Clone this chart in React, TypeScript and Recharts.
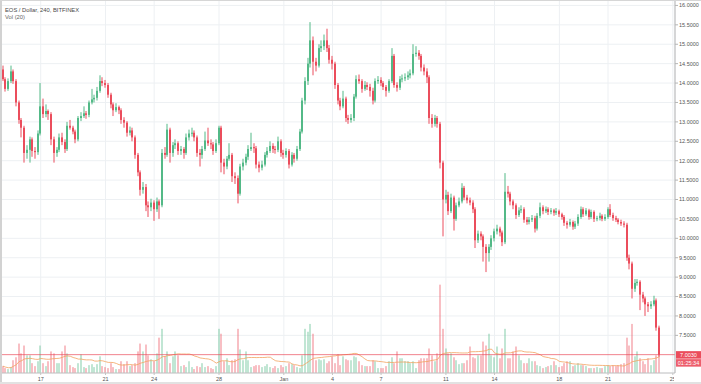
import React from "react"
import {
  ComposedChart,
  Bar,
  Line,
  XAxis,
  YAxis,
  CartesianGrid,
  ReferenceLine,
} from "recharts"

// EOS / Dollar, 4h candles (240), BITFINEX
const opens = [
  14.35, 14.10, 13.85, 14.05, 14.30, 14.05, 13.50, 13.05, 12.85, 12.20,
  12.28, 12.55, 12.25, 12.22, 12.70, 13.40, 13.20, 13.28, 13.20, 12.55,
  12.20, 12.28, 12.60, 12.48, 12.30, 12.90, 12.85, 12.75, 12.55, 13.10,
  13.15, 13.22, 13.18, 13.50, 13.58, 13.62, 13.80, 14.05, 14.00, 13.95,
  13.70, 13.45, 13.30, 13.38, 13.30, 13.05, 12.98, 12.72, 12.78, 12.60,
  12.15, 11.70, 11.25, 11.32, 10.85, 10.80, 10.92, 10.75, 10.95, 10.85,
  12.20, 12.15, 12.80, 12.20, 12.40, 12.45, 12.25, 12.30, 12.20, 12.60,
  12.70, 12.72, 12.60, 12.20, 12.15, 12.30, 12.52, 12.45, 12.42, 12.25,
  12.45, 12.85, 11.95, 11.85, 12.05, 12.15, 11.60, 11.55, 11.15, 11.85,
  11.95, 12.10, 12.30, 12.35, 12.32, 11.90, 11.82, 11.90, 12.15, 12.25,
  12.38, 12.30, 12.28, 12.50, 12.20, 12.15, 12.25, 11.90, 12.15, 12.05,
  12.30, 12.75, 13.55, 14.05, 14.50, 15.10, 14.55, 14.45, 14.90, 14.95,
  15.10, 14.90, 14.60, 14.50, 13.95, 13.55, 13.40, 13.60, 13.10, 13.05,
  13.10, 13.65, 14.10, 14.05, 13.85, 13.95, 13.90, 13.80, 13.55, 14.05,
  14.08, 14.00, 13.90, 13.80, 14.05, 14.70, 13.95, 13.88, 14.10, 14.12,
  14.15, 14.20, 14.25, 14.75, 14.78, 14.70, 14.40, 14.30, 14.15, 13.10,
  12.95, 13.10, 12.95, 11.95, 11.00, 11.12, 10.70, 11.05, 10.50, 10.85,
  10.95, 11.30, 11.05, 10.98, 10.92, 10.75, 9.95, 10.12, 10.05, 9.78,
  9.62, 9.78, 10.00, 10.18, 10.25, 10.15, 9.90, 11.20, 11.15, 10.95,
  10.85, 10.60, 10.72, 10.75, 10.48, 10.42, 10.48, 10.52, 10.25, 10.58,
  10.80, 10.70, 10.75, 10.68, 10.72, 10.66, 10.70, 10.62, 10.55, 10.40,
  10.35, 10.42, 10.30, 10.38, 10.55, 10.75, 10.62, 10.72, 10.55, 10.68,
  10.50, 10.52, 10.58, 10.50, 10.55, 10.75, 10.60, 10.52, 10.48, 10.42,
  10.38, 10.35, 9.50, 9.35, 8.70, 8.85, 8.88, 8.55, 8.45, 8.30,
  8.25, 8.30, 8.40, 7.70,
]

const highs = [
  14.45, 14.15, 14.12, 14.45, 14.35, 14.10, 13.55, 13.10, 12.90, 12.40,
  12.62, 12.60, 12.35, 12.78, 14.00, 13.60, 13.45, 13.32, 13.25, 12.62,
  12.35, 12.70, 12.72, 12.55, 13.00, 13.05, 12.90, 12.80, 13.15, 13.25,
  13.40, 13.28, 13.55, 13.85, 13.70, 13.90, 14.20, 14.15, 14.08, 14.00,
  13.75, 13.50, 13.48, 13.42, 13.35, 13.12, 13.02, 12.88, 12.85, 12.65,
  12.20, 11.75, 11.45, 11.40, 10.95, 11.02, 10.98, 11.05, 11.00, 12.30,
  12.35, 12.95, 12.85, 12.48, 12.55, 12.50, 12.38, 12.35, 12.70, 12.80,
  12.85, 12.78, 12.65, 12.30, 12.38, 12.75, 12.85, 12.55, 12.48, 12.55,
  12.90, 12.90, 12.05, 12.12, 12.45, 12.20, 11.70, 11.62, 11.92, 12.05,
  12.18, 12.40, 12.72, 12.45, 12.38, 11.98, 12.00, 12.22, 12.35, 12.50,
  12.45, 12.38, 12.62, 12.55, 12.28, 12.32, 12.30, 12.22, 12.20, 12.38,
  12.82, 13.62, 14.15, 14.65, 15.57, 15.20, 14.65, 15.00, 15.10, 15.25,
  15.40, 14.98, 14.70, 14.55, 14.00, 13.62, 13.80, 13.65, 13.18, 13.20,
  13.72, 14.20, 14.22, 14.10, 14.05, 14.02, 13.98, 13.88, 14.12, 14.18,
  14.15, 14.05, 13.95, 14.10, 14.90, 14.75, 14.02, 14.18, 14.22, 14.25,
  14.30, 14.35, 15.00, 14.95, 14.85, 14.75, 14.48, 14.38, 14.20, 13.20,
  13.18, 13.15, 13.00, 12.00, 11.25, 11.20, 11.15, 11.10, 10.92, 11.05,
  11.42, 11.35, 11.12, 11.05, 10.98, 10.80, 10.20, 10.18, 10.10, 9.85,
  9.85, 10.08, 10.25, 10.35, 10.30, 10.20, 11.68, 11.35, 11.20, 11.00,
  10.90, 10.80, 10.85, 10.80, 10.55, 10.55, 10.60, 10.58, 10.65, 10.92,
  10.85, 10.82, 10.80, 10.78, 10.76, 10.78, 10.74, 10.66, 10.60, 10.45,
  10.50, 10.46, 10.45, 10.62, 10.82, 10.80, 10.78, 10.76, 10.74, 10.72,
  10.58, 10.66, 10.62, 10.62, 10.80, 10.88, 10.66, 10.58, 10.52, 10.48,
  10.44, 10.40, 9.58, 9.40, 8.95, 8.95, 8.92, 8.62, 8.50, 8.36,
  8.38, 8.52, 8.45, 7.75,
]

const lows = [
  14.05, 13.78, 13.80, 14.00, 13.98, 13.40, 12.95, 12.60, 11.95, 12.05,
  11.95, 12.10, 12.05, 12.15, 12.65, 13.10, 13.12, 13.05, 12.40, 11.95,
  12.10, 12.22, 12.40, 12.20, 12.25, 12.80, 12.68, 12.45, 12.50, 13.02,
  13.10, 13.08, 13.12, 13.45, 13.50, 13.55, 13.75, 13.92, 13.88, 13.62,
  13.35, 13.15, 13.25, 13.20, 12.95, 12.85, 12.62, 12.65, 12.50, 12.05,
  11.60, 11.10, 11.15, 10.70, 10.55, 10.70, 10.45, 10.68, 10.50, 10.80,
  12.05, 12.10, 11.95, 12.10, 12.30, 12.15, 12.15, 12.05, 12.15, 12.52,
  12.62, 12.50, 12.10, 11.85, 12.05, 12.25, 12.38, 12.30, 12.15, 12.20,
  12.40, 11.70, 11.65, 11.78, 12.00, 11.45, 11.40, 10.90, 11.10, 11.75,
  11.88, 12.02, 12.25, 12.20, 11.80, 11.70, 11.75, 11.85, 12.08, 12.20,
  12.20, 12.18, 12.22, 12.10, 12.05, 12.08, 11.80, 11.85, 11.95, 12.00,
  12.25, 12.70, 13.45, 13.95, 14.40, 14.20, 14.30, 14.40, 14.80, 14.85,
  14.80, 14.50, 14.35, 13.85, 13.45, 13.30, 13.35, 13.00, 12.95, 12.98,
  13.02, 13.60, 13.98, 13.75, 13.80, 13.82, 13.65, 13.45, 13.50, 13.98,
  13.92, 13.82, 13.65, 13.75, 14.00, 13.88, 13.78, 13.82, 14.02, 14.05,
  14.08, 14.12, 14.20, 14.68, 14.60, 14.30, 14.20, 14.00, 12.95, 12.85,
  12.88, 12.85, 11.80, 10.05, 10.90, 10.60, 10.65, 10.20, 10.45, 10.80,
  10.90, 10.98, 10.90, 10.85, 10.65, 9.75, 9.88, 9.95, 9.40, 9.13,
  9.40, 9.70, 9.92, 10.10, 10.05, 9.80, 9.85, 11.05, 10.85, 10.75,
  10.50, 10.55, 10.65, 10.40, 10.35, 10.36, 10.42, 10.15, 10.20, 10.52,
  10.62, 10.65, 10.60, 10.62, 10.58, 10.60, 10.55, 10.48, 10.32, 10.25,
  10.30, 10.22, 10.24, 10.32, 10.50, 10.55, 10.58, 10.48, 10.50, 10.42,
  10.44, 10.46, 10.44, 10.45, 10.50, 10.55, 10.45, 10.42, 10.36, 10.32,
  10.28, 9.42, 9.20, 8.45, 8.62, 8.78, 8.15, 8.35, 8.00, 8.10,
  8.18, 8.25, 7.62, 6.95,
]

const closes = [
  14.10, 13.85, 14.05, 14.30, 14.05, 13.50, 13.05, 12.85, 12.20, 12.28,
  12.55, 12.25, 12.22, 12.70, 13.40, 13.20, 13.28, 13.20, 12.55, 12.20,
  12.28, 12.60, 12.48, 12.30, 12.90, 12.85, 12.75, 12.55, 13.10, 13.15,
  13.22, 13.18, 13.50, 13.58, 13.62, 13.80, 14.05, 14.00, 13.95, 13.70,
  13.45, 13.30, 13.38, 13.30, 13.05, 12.98, 12.72, 12.78, 12.60, 12.15,
  11.70, 11.25, 11.32, 10.85, 10.80, 10.92, 10.75, 10.95, 10.85, 12.20,
  12.15, 12.80, 12.20, 12.40, 12.45, 12.25, 12.30, 12.20, 12.60, 12.70,
  12.72, 12.60, 12.20, 12.15, 12.30, 12.52, 12.45, 12.42, 12.25, 12.45,
  12.85, 11.95, 11.85, 12.05, 12.15, 11.60, 11.55, 11.15, 11.85, 11.95,
  12.10, 12.30, 12.35, 12.32, 11.90, 11.82, 11.90, 12.15, 12.25, 12.38,
  12.30, 12.28, 12.50, 12.20, 12.15, 12.25, 11.90, 12.15, 12.05, 12.30,
  12.75, 13.55, 14.05, 14.50, 15.10, 14.55, 14.45, 14.90, 14.95, 15.10,
  14.90, 14.60, 14.50, 13.95, 13.55, 13.40, 13.60, 13.10, 13.05, 13.10,
  13.65, 14.10, 14.05, 13.85, 13.95, 13.90, 13.80, 13.55, 14.05, 14.08,
  14.00, 13.90, 13.80, 14.05, 14.70, 13.95, 13.88, 14.10, 14.12, 14.15,
  14.20, 14.25, 14.75, 14.78, 14.70, 14.40, 14.30, 14.15, 13.10, 12.95,
  13.10, 12.95, 11.95, 11.00, 11.12, 10.70, 11.05, 10.50, 10.85, 10.95,
  11.30, 11.05, 10.98, 10.92, 10.75, 9.95, 10.12, 10.05, 9.78, 9.62,
  9.78, 10.00, 10.18, 10.25, 10.15, 9.90, 11.20, 11.15, 10.95, 10.85,
  10.60, 10.72, 10.75, 10.48, 10.42, 10.48, 10.52, 10.25, 10.58, 10.80,
  10.70, 10.75, 10.68, 10.72, 10.66, 10.70, 10.62, 10.55, 10.40, 10.35,
  10.42, 10.30, 10.38, 10.55, 10.75, 10.62, 10.72, 10.55, 10.68, 10.50,
  10.52, 10.58, 10.50, 10.55, 10.75, 10.60, 10.52, 10.48, 10.42, 10.38,
  10.35, 9.50, 9.35, 8.70, 8.85, 8.88, 8.55, 8.45, 8.30, 8.25,
  8.30, 8.40, 7.70, 7.00,
]

const volumes = [
  7, 5, 4, 6, 13, 16, 30, 20, 28, 18,
  18, 10, 7, 12, 28, 10, 7, 12, 22, 20,
  10, 10, 22, 28, 20, 8, 6, 5, 10, 19,
  6, 5, 8, 9, 6, 9, 17, 7, 6, 5,
  10, 6, 4, 4, 12, 9, 12, 7, 8, 10,
  22, 30, 22, 29, 18, 14, 12, 20, 36, 45,
  17, 22, 10, 17, 22, 18, 7, 8, 6, 12,
  6, 4, 7, 6, 10, 6, 7, 5, 4, 7,
  45, 40, 12, 15, 8, 13, 14, 45, 24, 13,
  22, 13, 6, 7, 8, 8, 6, 7, 9, 6,
  5, 7, 5, 8, 6, 7, 10, 9, 8, 6,
  5, 18, 45, 42, 50, 40, 13, 14, 13, 14,
  10, 12, 17, 10, 19, 8, 17, 14, 13, 13,
  17, 16, 12, 8, 7, 7, 7, 13, 12, 5,
  5, 5, 7, 12, 16, 10, 22, 15, 15, 12,
  12, 10, 12, 5, 13, 15, 15, 15, 25, 18,
  12, 20, 90, 45, 25, 20, 20, 16, 13, 9,
  10, 10, 13, 27, 16, 15, 18, 18, 32, 28,
  40, 18, 16, 27, 15, 25, 45, 15, 15, 22,
  27, 18, 13, 10, 10, 15, 12, 12, 8, 7,
  5, 6, 7, 8, 12, 8, 6, 7, 10, 12,
  12, 7, 8, 10, 8, 8, 7, 5, 5, 5,
  6, 5, 5, 7, 8, 7, 8, 7, 8, 9,
  10, 36, 28, 50, 17, 22, 15, 12, 9, 15,
  8, 13, 18, 32,
]

// candle index of each date label (index 14 = Dec 17 00:00)
const dateTicks = [14, 38, 56, 80, 104, 122, 140, 164, 182, 206, 224, 248]
const dateLabels = ["17", "21", "24", "28", "Jan", "4", "7", "11", "14", "18", "21", "25"]
const priceTicks = [7.5, 8, 8.5, 9, 9.5, 10, 10.5, 11, 11.5, 12, 12.5, 13, 13.5, 14, 14.5, 15, 15.5, 16]
const lastPrice = 7.003
const countdown = "01:25:34"

const UP = "#53b987"
const DOWN = "#eb4d5c"
const FONT = "'Liberation Sans', Arial, sans-serif"
const PLOT_RIGHT = 675

const data = closes.map((close, i) => {
  const win = volumes.slice(Math.max(0, i - 19), i + 1)
  return {
    i,
    open: opens[i],
    high: highs[i],
    low: lows[i],
    close,
    range: [lows[i], highs[i]],
    vol: volumes[i],
    volMa: win.reduce((a, b) => a + b, 0) / win.length,
  }
})

const Candle = (props: any) => {
  const { x, y, width, height, payload } = props
  const { open, close, high, low } = payload
  const color = close >= open ? UP : DOWN
  const k = height / (high - low)
  const yO = y + (high - open) * k
  const yC = y + (high - close) * k
  const bx = Math.round(x + width / 2 - 1)
  const top = Math.min(yO, yC)
  const h = Math.max(1, Math.abs(yC - yO))
  return (
    <g>
      <line x1={bx + 1} x2={bx + 1} y1={y} y2={y + height} stroke={color} strokeWidth={1} />
      <rect x={bx} y={top} width={2} height={h} fill={color} />
    </g>
  )
}

const VolBar = (props: any) => {
  const { x, y, width, height, payload } = props
  const up = payload.close >= payload.open
  const bx = Math.round(x + width / 2 - 1)
  return <rect x={bx} y={y} width={2} height={Math.max(0, height)} fill={up ? UP : DOWN} fillOpacity={0.36} />
}

// the last date label runs under the price scale, so it is cut at the plot edge
const DateTick = (props: any) => {
  const { x, y, payload } = props
  const label = dateLabels[dateTicks.indexOf(payload.value)]
  return (
    <svg x={0} y={0} width={PLOT_RIGHT - 1} height={384} overflow="hidden">
      <text x={x} y={y + 4} textAnchor="middle" fontSize={5.5} fill="#555" fontFamily={FONT}>
        {label}
      </text>
    </svg>
  )
}

const PriceTag = (props: any) => {
  const vb = props.viewBox || {}
  const yy = vb.y
  const xx = PLOT_RIGHT + 1
  return (
    <g fontFamily={FONT}>
      <rect x={xx} y={yy - 3.5} width={25} height={7.5} fill={DOWN} />
      <text x={xx + 12.5} y={yy + 2} textAnchor="middle" fontSize={5.5} fill="#fff">
        {lastPrice.toFixed(4)}
      </text>
      <rect x={xx} y={yy + 4.5} width={25} height={7.5} fill={DOWN} fillOpacity={0.9} />
      <text x={xx + 12.5} y={yy + 10} textAnchor="middle" fontSize={5.5} fill="#fff">
        {countdown}
      </text>
    </g>
  )
}

export default function App() {
  return (
    <div style={{ position: "absolute", left: 0, top: 0, width: 701, height: 384, background: "#fff", overflow: "hidden" }}>
      <ComposedChart width={701} height={384} data={data} margin={{ top: 0, right: 0, bottom: 0, left: 0 }}>
        <CartesianGrid xAxisId="main" yAxisId="price" stroke="#edf0f3" />
        <XAxis
          xAxisId="main"
          dataKey="i"
          type="number"
          domain={[-1.07, 248.8]}
          ticks={dateTicks}
          interval={0}
          allowDataOverflow
          height={11}
          tickSize={2}
          tick={<DateTick />}
          axisLine={{ stroke: "#c4c4c4" }}
          tickLine={{ stroke: "#c4c4c4" }}
        />
        <XAxis xAxisId="vol" dataKey="i" type="number" domain={[-1.07, 248.8]} allowDataOverflow hide />
        <YAxis
          yAxisId="price"
          orientation="right"
          type="number"
          domain={[6.53, 16.14]}
          ticks={priceTicks}
          interval={0}
          allowDataOverflow
          width={26}
          tickSize={3}
          tickMargin={1}
          tickFormatter={(v: number) => v.toFixed(4)}
          tick={{ fontSize: 5.5, fill: "#555", fontFamily: FONT }}
          axisLine={{ stroke: "#b5b5b5" }}
          tickLine={{ stroke: "#b5b5b5" }}
        />
        <YAxis yAxisId="vol" type="number" domain={[0, 380]} allowDataOverflow hide />
        <Bar xAxisId="vol" yAxisId="vol" dataKey="vol" barSize={2} shape={<VolBar />} isAnimationActive={false} />
        <Line
          xAxisId="vol"
          yAxisId="vol"
          dataKey="volMa"
          type="linear"
          stroke="#f2a25f"
          strokeOpacity={0.8}
          strokeWidth={1}
          dot={false}
          isAnimationActive={false}
        />
        <ReferenceLine
          xAxisId="main"
          yAxisId="price"
          y={lastPrice}
          stroke={DOWN}
          strokeOpacity={0.7}
          strokeWidth={1}
          label={<PriceTag />}
        />
        <Bar xAxisId="main" yAxisId="price" dataKey="range" barSize={2} shape={<Candle />} isAnimationActive={false} />
      </ComposedChart>
      <div style={{ position: "absolute", left: 5, top: 7, fontFamily: FONT, fontSize: 5.8, color: "#4a4a4a", lineHeight: "7px" }}>
        <div>EOS / Dollar, 240, BITFINEX</div>
        <div style={{ color: "#666" }}>Vol (20)</div>
      </div>
      <div style={{ position: "absolute", left: 0, top: 0, width: 2, height: 384, background: "#d2d2d2" }} />
      <div style={{ position: "absolute", left: 0, top: 0, width: 701, height: 1, background: "#d6d6d6" }} />
      <div style={{ position: "absolute", left: 0, top: 382, width: 701, height: 2, background: "#e2e2e2" }} />
    </div>
  )
}
